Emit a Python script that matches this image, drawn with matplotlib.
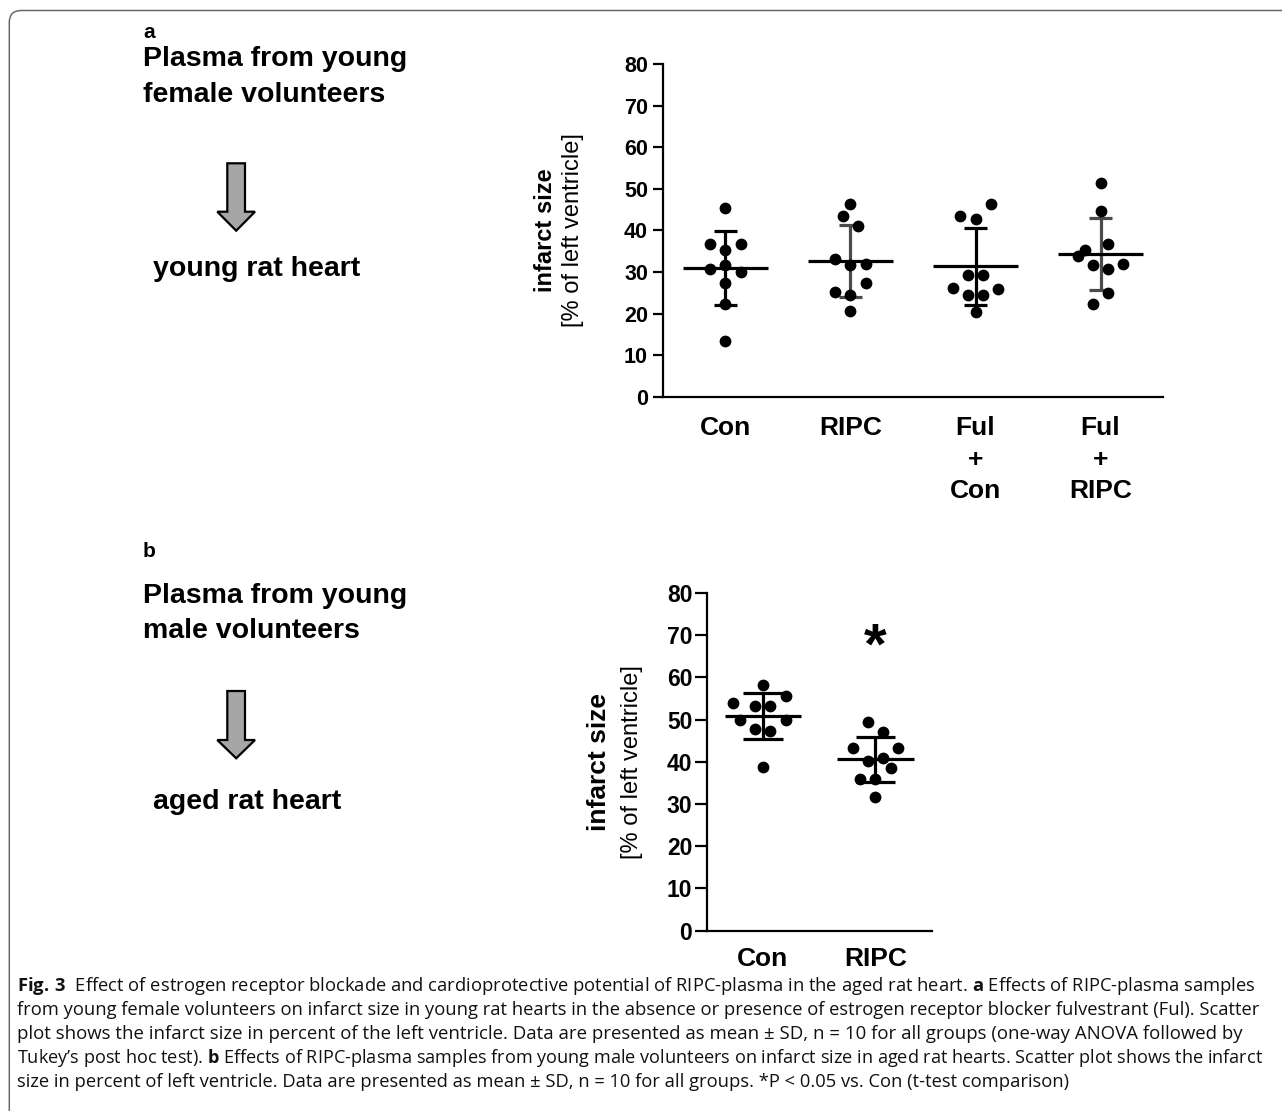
import matplotlib
matplotlib.use('Agg')
import matplotlib.pyplot as plt
from matplotlib.patches import Polygon, FancyBboxPatch

plt.rcParams['font.family'] = ['Liberation Sans', 'DejaVu Sans']
plt.rcParams['mathtext.fontset'] = 'custom'
plt.rcParams['mathtext.rm'] = 'Open Sans'
plt.rcParams['mathtext.bf'] = 'Open Sans:bold'

# ---------------- data ----------------
groups_a = ['Con', 'RIPC', 'Ful\n+\nCon', 'Ful\n+\nRIPC']
con_a = [45.3, 36.7, 36.7, 35.3, 30.8, 31.6, 30.0, 27.3, 22.3, 13.4]
ripc_a = [46.4, 43.6, 41.1, 33.1, 31.6, 31.9, 27.5, 25.3, 24.6, 20.7]
fulcon_a = [43.5, 42.8, 46.4, 29.3, 29.3, 26.3, 26.0, 24.5, 24.5, 20.4]
fulripc_a = [51.3, 44.8, 36.7, 35.3, 33.9, 31.8, 30.8, 31.9, 25.1, 22.3]
# swarm column index of each dot (GraphPad scatter arrangement)
con_a_col = [0, -2, 2, 0, -2, 0, 2, 0, 0, 0]
ripc_a_col = [0, -1, 1, -2, 0, 2, 2, -2, 0, 0]
fulcon_a_col = [-2, 0, 2, -1, 1, -3, 3, -1, 1, 0]
fulripc_a_col = [0, 0, 1, -2, -3, -1, 1, 3, 1, -1]
mean_a = [31.0, 32.7, 31.4, 34.4]
sd_a = [8.8, 8.6, 9.3, 8.6]

groups_b = ['Con', 'RIPC']
con_b = [58.1, 55.7, 53.9, 53.2, 53.2, 50.0, 49.8, 47.8, 47.3, 38.7]
ripc_b = [49.4, 47.0, 43.3, 43.3, 40.2, 40.8, 38.6, 36.0, 35.9, 31.7]
con_b_col = [0, 3, -4, -1, 1, -3, 3, -1, 1, 0]
ripc_b_col = [-1, 1, -3, 3, -1, 1, 2, -2, 0, 0]
mean_b = [50.8, 40.6]
sd_b = [5.45, 5.4]
sig_b = ['', '*']
sig_b_y = 66.8

yticks = [0, 10, 20, 30, 40, 50, 60, 70, 80]

# ---------------- figure ----------------
W, H = 1282, 1111
fig = plt.figure(figsize=(W / 100, H / 100), dpi=100)


def fx(x):
    return x / W


def fy(y):
    return 1 - y / H


# rounded frame
frame = FancyBboxPatch((0.093, -0.5), 14.0, (H - 10.5) / 100 + 0.5,
                       boxstyle='round,pad=0,rounding_size=0.12',
                       transform=fig.dpi_scale_trans, fill=False,
                       edgecolor='#6a6a6a', linewidth=1.1)
fig.patches.append(frame)


def panel(rect, groups, vals, cols, means, sds, bar_cols, step, cap_hw,
          tick_fs, tick_len, tick_pad, xl_fs, xl_pad):
    ax = fig.add_axes(rect)
    for s in ['top', 'right']:
        ax.spines[s].set_visible(False)
    for s in ['left', 'bottom']:
        ax.spines[s].set_linewidth(1.6)
    ax.set_ylim(0, 80)
    ax.set_xlim(-0.5, len(groups) - 0.5)
    ax.set_yticks(yticks)
    ax.set_yticklabels([str(t) for t in yticks], fontweight='bold', fontsize=tick_fs)
    ax.set_xticks(range(len(groups)))
    ax.set_xticklabels(groups, fontweight='bold', fontsize=xl_fs, linespacing=1.38)
    ax.tick_params(axis='y', length=tick_len, width=1.6, pad=tick_pad)
    ax.tick_params(axis='x', length=0, pad=xl_pad)
    for i, (v, c, m, sd, bc) in enumerate(zip(vals, cols, means, sds, bar_cols)):
        ax.vlines(i, m - sd, m + sd, color=bc, lw=2.3, zorder=2)
        ax.hlines([m - sd, m + sd], i - cap_hw, i + cap_hw, color=bc, lw=2.3, zorder=2)
        ax.hlines(m, i - 0.34, i + 0.34, color='black', lw=2.3, zorder=2)
        xs = [i + k * step for k in c]
        ax.scatter(xs, v, s=72, color='black', linewidths=0, zorder=3)
    return ax


ax_a = panel([fx(663), fy(397), (1163 - 663) / W, (397 - 64) / H],
             groups_a, [con_a, ripc_a, fulcon_a, fulripc_a],
             [con_a_col, ripc_a_col, fulcon_a_col, fulripc_a_col],
             mean_a, sd_a, ['black', '#4a4a4a', 'black', '#4a4a4a'],
             0.061, 0.09, 15.5, 7.2, 3.6, 19, 14)

ax_b = panel([fx(706.7), fy(930.7), (931.7 - 706.7) / W, (930.7 - 593) / H],
             groups_b, [con_b, ripc_b], [con_b_col, ripc_b_col],
             mean_b, sd_b, ['black', 'black'],
             0.067, 0.175, 16.5, 8.4, 2.0, 19, 12)
for i, s in enumerate(sig_b):
    if s:
        ax_b.text(i, sig_b_y, s, ha='center', va='center', fontsize=42,
                  fontweight='bold')

# y axis labels
fig.text(fx(545), fy(230.5), 'infarct size', rotation=90, ha='center', va='center',
         fontsize=17, fontweight='bold')
fig.text(fx(573), fy(230.5), '[% of left ventricle]', rotation=90, ha='center',
         va='center', fontsize=17)
fig.text(fx(599), fy(762), 'infarct size', rotation=90, ha='center', va='center',
         fontsize=19, fontweight='bold')
fig.text(fx(631.7), fy(762), '[% of left ventricle]', rotation=90, ha='center',
         va='center', fontsize=17)

# left-hand schematic
fig.text(fx(143), fy(38.3), 'a', fontsize=15, fontweight='bold', va='baseline')
fig.text(fx(143), fy(66), 'Plasma from young', fontsize=20.5, fontweight='bold', va='baseline')
fig.text(fx(143), fy(101.7), 'female volunteers', fontsize=20.5, fontweight='bold', va='baseline')
fig.text(fx(153), fy(276), 'young rat heart', fontsize=20.5, fontweight='bold', va='baseline')

fig.text(fx(143), fy(556.7), 'b', fontsize=15, fontweight='bold', va='baseline')
fig.text(fx(143), fy(602.7), 'Plasma from young', fontsize=20.5, fontweight='bold', va='baseline')
fig.text(fx(143), fy(638.3), 'male volunteers', fontsize=20.5, fontweight='bold', va='baseline')
fig.text(fx(153), fy(809), 'aged rat heart', fontsize=20.5, fontweight='bold', va='baseline')


def down_arrow(top, base, tip):
    pts = [(227.3, top), (245, top), (245, base), (255, base), (236.2, tip),
           (217.3, base), (227.3, base)]
    poly = Polygon([(fx(x), fy(y)) for x, y in pts], closed=True,
                   transform=fig.transFigure, facecolor='#a6a6a6',
                   edgecolor='black', linewidth=1.6, joinstyle='miter')
    fig.patches.append(poly)


down_arrow(163.3, 211.7, 230.7)
down_arrow(691, 740, 758.3)

# caption
cap_lines = [
    r'$\mathbf{Fig.\,3}$  Effect of estrogen receptor blockade and cardioprotective potential of RIPC-plasma in the aged rat heart. $\mathbf{a}$ Effects of RIPC-plasma samples',
    'from young female volunteers on infarct size in young rat hearts in the absence or presence of estrogen receptor blocker fulvestrant (Ful). Scatter',
    'plot shows the infarct size in percent of the left ventricle. Data are presented as mean ± SD, n = 10 for all groups (one-way ANOVA followed by',
    r'Tukey’s post hoc test). $\mathbf{b}$ Effects of RIPC-plasma samples from young male volunteers on infarct size in aged rat hearts. Scatter plot shows the infarct',
    'size in percent of left ventricle. Data are presented as mean ± SD, n = 10 for all groups. *P < 0.05 vs. Con (t-test comparison)',
]
cap_base = [991, 1015, 1039, 1063, 1087]
cap_right = [1255, 1257, 1237, 1261, 1063]
cap_texts = [fig.text(fx(17), fy(y), s, fontsize=12, family=['Open Sans', 'DejaVu Sans'],
                      va='baseline', color='#111111')
             for s, y in zip(cap_lines, cap_base)]
fig.canvas.draw()
r = fig.canvas.get_renderer()
for t, xr in zip(cap_texts, cap_right):
    w = t.get_window_extent(r).width
    t.set_fontsize(12 * (xr - 17) / w)

fig.savefig('out.png', dpi=100)
